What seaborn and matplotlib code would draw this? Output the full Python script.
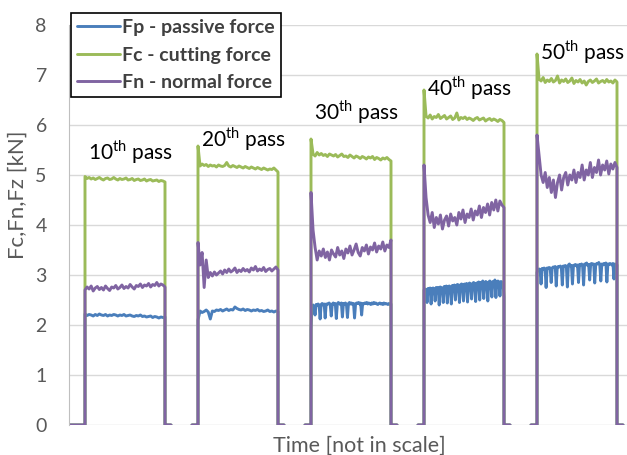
import numpy as np
import pandas as pd
import seaborn as sns
import matplotlib.pyplot as plt

# pass names and force series (kN)
passes = ['10', '20', '30', '40', '50']
series = ['Fp - passive force', 'Fc - cutting force', 'Fn - normal force']
colors = ['#4A7EBB', '#9BBB59', '#8064A2']
label_heights = [5.45, 5.72, 6.25, 6.74, 7.46]

fp_10 = [2.22, 2.19, 2.21, 2.20, 2.18, 2.21, 2.19, 2.22, 2.20, 2.19, 2.21, 2.18, 2.20, 2.19, 2.21, 2.20, 2.18, 2.20, 2.19, 2.21,
         2.18, 2.19, 2.20, 2.18, 2.17, 2.19, 2.18, 2.20, 2.17, 2.18, 2.16, 2.17, 2.18, 2.15, 2.17, 2.16, 2.14, 2.16, 2.15, 2.16]
fc_10 = [4.97, 4.93, 4.95, 4.92, 4.94, 4.91, 4.93, 4.95, 4.92, 4.90, 4.93, 4.94, 4.91, 4.92, 4.95, 4.92, 4.90, 4.93, 4.91, 4.92,
         4.94, 4.90, 4.91, 4.93, 4.89, 4.91, 4.92, 4.89, 4.90, 4.92, 4.88, 4.90, 4.91, 4.88, 4.89, 4.90, 4.87, 4.89, 4.88, 4.86]
fn_10 = [2.70, 2.76, 2.72, 2.78, 2.68, 2.74, 2.77, 2.71, 2.75, 2.70, 2.78, 2.73, 2.69, 2.76, 2.74, 2.79, 2.72, 2.75, 2.80, 2.73,
         2.77, 2.74, 2.81, 2.76, 2.72, 2.79, 2.77, 2.82, 2.75, 2.80, 2.78, 2.83, 2.76, 2.81, 2.79, 2.85, 2.78, 2.82, 2.80, 2.76]

fp_20 = [2.10, 2.28, 2.25, 2.27, 2.30, 2.26, 2.12, 2.28, 2.27, 2.30, 2.29, 2.31, 2.28, 2.30, 2.32, 2.29, 2.31, 2.30, 2.36, 2.33,
         2.31, 2.30, 2.32, 2.29, 2.31, 2.30, 2.28, 2.30, 2.29, 2.31, 2.28, 2.29, 2.27, 2.28, 2.30, 2.27, 2.28, 2.26, 2.28, 2.27]
fc_20 = [5.58, 5.18, 5.22, 5.19, 5.21, 5.17, 5.20, 5.18, 5.19, 5.16, 5.20, 5.18, 5.17, 5.19, 5.25, 5.18, 5.16, 5.19, 5.17, 5.15,
         5.18, 5.16, 5.14, 5.17, 5.15, 5.13, 5.16, 5.14, 5.12, 5.15, 5.13, 5.11, 5.14, 5.12, 5.10, 5.12, 5.11, 5.14, 5.10, 5.06]
fn_20 = [3.65, 3.20, 3.45, 2.75, 3.30, 2.95, 3.05, 2.98, 3.06, 3.00, 3.04, 3.08, 3.02, 3.10, 3.05, 3.12, 3.06, 3.09, 3.14, 3.05,
         3.10, 3.07, 3.13, 3.08, 3.11, 3.06, 3.14, 3.10, 3.17, 3.08, 3.12, 3.09, 3.15, 3.07, 3.11, 3.13, 3.08, 3.12, 3.16, 3.10]

fp_30 = [1.90, 2.38, 2.40, 2.36, 2.20, 2.41, 2.39, 2.42, 2.40, 2.12, 2.41, 2.43, 2.40, 2.42, 2.14, 2.42, 2.41, 2.43, 2.44, 2.40,
         2.18, 2.42, 2.44, 2.41, 2.43, 2.13, 2.42, 2.45, 2.43, 2.41, 2.44, 2.16, 2.43, 2.42, 2.44, 2.41, 2.15, 2.43, 2.45, 2.42,
         2.44, 2.41, 2.43, 2.14, 2.42, 2.44, 2.43, 2.45, 2.42, 2.44, 2.20, 2.43, 2.42, 2.44, 2.43, 2.45, 2.42, 2.44, 2.43, 2.41,
         2.44, 2.42, 2.45, 2.43, 2.44, 2.42, 2.41, 2.43, 2.44, 2.42, 2.43, 2.41, 2.44, 2.42, 2.43, 2.42, 2.41, 2.43, 2.42, 2.42]
fc_30 = [5.72, 5.42, 5.38, 5.45, 5.40, 5.43, 5.39, 5.41, 5.37, 5.42, 5.40, 5.38, 5.41, 5.36, 5.39, 5.42, 5.37, 5.38, 5.35, 5.40,
         5.37, 5.34, 5.38, 5.36, 5.33, 5.37, 5.35, 5.32, 5.36, 5.34, 5.37, 5.31, 5.35, 5.33, 5.30, 5.34, 5.32, 5.35, 5.31, 5.28]
fn_30 = [4.65, 3.90, 3.55, 3.30, 3.48, 3.38, 3.52, 3.35, 3.46, 3.30, 3.50, 3.42, 3.36, 3.55, 3.40, 3.48, 3.33, 3.52, 3.44, 3.58,
         3.40, 3.50, 3.62, 3.45, 3.38, 3.55, 3.48, 3.60, 3.42, 3.56, 3.50, 3.64, 3.46, 3.58, 3.52, 3.66, 3.48, 3.60, 3.55, 3.70]

fp_40 = [2.70, 2.72, 2.71, 2.45, 2.73, 2.72, 2.74, 2.42, 2.73, 2.74, 2.72, 2.48, 2.75, 2.74, 2.75, 2.40, 2.76, 2.75, 2.74, 2.45,
         2.77, 2.76, 2.78, 2.44, 2.77, 2.78, 2.76, 2.42, 2.79, 2.78, 2.80, 2.50, 2.79, 2.81, 2.80, 2.45, 2.80, 2.82, 2.81, 2.48,
         2.82, 2.80, 2.83, 2.46, 2.82, 2.84, 2.82, 2.52, 2.83, 2.85, 2.83, 2.47, 2.84, 2.83, 2.86, 2.50, 2.85, 2.84, 2.88, 2.53,
         2.85, 2.87, 2.84, 2.48, 2.86, 2.88, 2.85, 2.56, 2.87, 2.85, 2.90, 2.55, 2.86, 2.88, 2.86, 2.58, 2.87, 2.85, 2.86, 2.55]
fc_40 = [6.70, 6.18, 6.14, 6.20, 6.12, 6.17, 6.15, 6.21, 6.13, 6.16, 6.19, 6.12, 6.15, 6.18, 6.11, 6.14, 6.24, 6.10, 6.15, 6.13,
         6.16, 6.11, 6.14, 6.12, 6.09, 6.13, 6.15, 6.10, 6.12, 6.14, 6.08, 6.11, 6.13, 6.09, 6.12, 6.10, 6.07, 6.11, 6.09, 6.05]
fn_40 = [5.20, 4.55, 4.20, 4.05, 4.25, 3.95, 4.15, 4.02, 4.20, 3.92, 4.10, 4.18, 3.98, 4.22, 4.08, 4.15, 4.00, 4.25, 4.12, 4.30,
         4.05, 4.22, 4.15, 4.32, 4.10, 4.28, 4.20, 4.38, 4.15, 4.35, 4.25, 4.42, 4.20, 4.45, 4.30, 4.50, 4.28, 4.48, 4.40, 4.35]

fp_50 = [3.05, 3.10, 3.12, 3.11, 2.82, 3.13, 3.12, 3.14, 3.12, 2.75, 3.14, 3.13, 3.15, 3.14, 2.85, 3.14, 3.16, 3.15, 3.17, 2.78,
         3.15, 3.17, 3.16, 3.18, 3.16, 2.80, 3.18, 3.17, 3.19, 3.17, 2.76, 3.20, 3.22, 3.18, 3.19, 2.82, 3.19, 3.20, 3.21, 3.18,
         3.20, 2.85, 3.21, 3.20, 3.22, 3.19, 2.80, 3.22, 3.21, 3.24, 3.19, 3.21, 2.90, 3.22, 3.23, 3.21, 3.22, 2.84, 3.21, 3.23,
         3.22, 3.25, 3.21, 2.88, 3.22, 3.20, 3.23, 3.21, 3.24, 2.86, 3.22, 3.21, 3.23, 3.22, 3.20, 3.23, 2.92, 3.22, 3.21, 3.20]
fc_50 = [7.42, 6.92, 6.88, 6.95, 6.85, 6.90, 6.87, 6.93, 6.86, 6.89, 6.98, 6.84, 6.90, 6.87, 6.92, 6.85, 6.88, 6.94, 6.83, 6.89,
         6.86, 6.91, 6.84, 6.88, 6.80, 6.87, 6.90, 6.85, 6.88, 6.92, 6.84, 6.87, 6.89, 6.85, 6.91, 6.86, 6.88, 6.84, 6.90, 6.86]
fn_50 = [5.80, 5.40, 5.00, 4.85, 5.05, 4.75, 4.95, 4.65, 4.90, 4.55, 4.85, 5.00, 4.70, 4.95, 5.05, 4.80, 5.00, 4.90, 5.10, 4.85,
         5.05, 4.95, 5.20, 4.90, 5.10, 5.00, 5.25, 4.95, 5.15, 5.05, 5.30, 5.00, 5.20, 5.10, 5.28, 5.02, 5.22, 5.12, 5.25, 5.15]

forces = {
    '10': [fp_10, fc_10, fn_10],
    '20': [fp_20, fc_20, fn_20],
    '30': [fp_30, fc_30, fn_30],
    '40': [fp_40, fc_40, fn_40],
    '50': [fp_50, fc_50, fn_50],
}

# sample layout along the (not to scale) time axis
PERIOD = 56.5
PULSE = 40
N_LEAD_FIRST = 8
N_LEAD = 3
N_TRAIL = 4


def build_frame():
    rows = []
    for k, p in enumerate(passes):
        start = N_LEAD_FIRST + k * PERIOD
        n_lead = N_LEAD_FIRST if k == 0 else N_LEAD
        lead_x = start - n_lead + np.arange(n_lead + 1)
        trail_x = start + PULSE + np.arange(N_TRAIL)
        for name, values in zip(series, forces[p]):
            x = np.concatenate([lead_x, start + np.linspace(0, PULSE, len(values)), trail_x])
            y = [0.0] * len(lead_x) + list(values) + [0.0] * N_TRAIL
            rows += [{'t': xi, 'force': yi, 'series': name, 'pass': p} for xi, yi in zip(x, y)]
    return pd.DataFrame(rows)


sns.set_style('white')
plt.rcParams['font.family'] = ['Lato', 'DejaVu Sans']
plt.rcParams['mathtext.fontset'] = 'custom'
plt.rcParams['mathtext.rm'] = 'Lato'

df = build_frame()

fig = plt.figure(figsize=(6.27, 4.55), dpi=100)
ax = fig.add_axes([69 / 627, 30 / 455, 558 / 627, 400 / 455])

sns.lineplot(data=df, x='t', y='force', hue='series', units='pass', estimator=None, sort=False,
             hue_order=series, palette=colors, lw=2.1, ax=ax)

ax.set_xlim(0, 279)
ax.set_ylim(0, 8)
ax.set_yticks(range(0, 9))
ax.set_xticks([])
ax.grid(axis='y', color='#D9D9D9', lw=1)
ax.set_axisbelow(True)
for side in ['top', 'right', 'bottom']:
    ax.spines[side].set_visible(False)
ax.spines['left'].set_color('#BFBFBF')
ax.tick_params(axis='y', length=0, pad=16, labelsize=14, labelcolor='#595959')

ax.set_ylabel('Fc,Fn,Fz [kN]', fontsize=16, color='#595959')
ax.yaxis.set_label_coords(-0.074, 0.575)
ax.set_xlabel('Time [not in scale]', fontsize=15.5, color='#595959')
ax.xaxis.set_label_coords(0.52, -0.026)

for k, p in enumerate(passes):
    ax.text(N_LEAD_FIRST + k * PERIOD + 1.5, label_heights[k], p + r'$^{\mathrm{th}}$ pass',
            fontsize=15, color='black', va='center', ha='left')

handles, labels = ax.get_legend_handles_labels()
ax.legend(handles, labels, loc='upper left', bbox_to_anchor=(71 / 627, 1 - 13 / 455),
          bbox_transform=fig.transFigure, borderaxespad=0, fancybox=False, framealpha=1,
          edgecolor='black', handlelength=2.2, handletextpad=0.1,
          labelspacing=0.54, borderpad=0.32, prop={'size': 14, 'weight': 'bold'},
          labelcolor='#404040')
ax.get_legend().get_frame().set_linewidth(1.2)

plt.savefig('out.png', dpi=100)
